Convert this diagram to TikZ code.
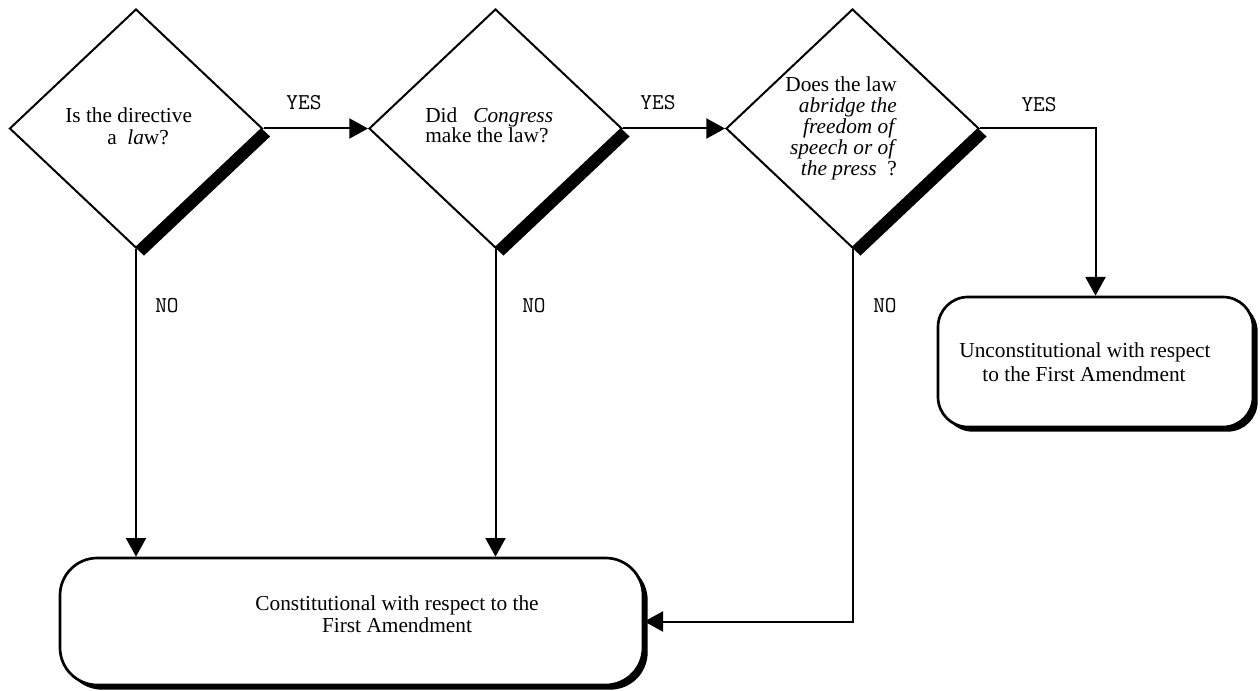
\documentclass[tikz,border=0pt]{standalone}
\usepackage{fontspec}
\setmainfont{Liberation Serif}
\usetikzlibrary{shapes.geometric,arrows.meta,shadows}
\begin{document}
\begin{tikzpicture}[x=0.75pt,y=-0.75pt,
  dec/.style={diamond, draw, line width=1.5pt, fill=white, inner sep=0pt,
    minimum width=189.75pt, minimum height=179.25pt,
    drop shadow={shadow xshift=6pt, shadow yshift=-6pt, fill=black, opacity=1}},
  endbox/.style={rectangle, draw, line width=2pt, fill=white, inner sep=0pt,
    drop shadow={shadow xshift=3.5pt, shadow yshift=-3.5pt, fill=black, opacity=1}},
  flow/.style={line width=1.5pt, -{Triangle[length=14pt, width=15pt]}},
  txt/.style={font=\fontsize{16}{19}\selectfont, inner sep=0pt},
  lbl/.style={font=\fontsize{17}{20}\selectfont\ttfamily, inner sep=0pt}]
\useasboundingbox (0,0) rectangle (1260,691);

% decision diamonds
\node[dec] (d1) at (136,128.5) {};
\node[dec] (d2) at (495.5,128.5) {};
\node[dec] (d3) at (852.5,128.5) {};

% terminal boxes
\node[endbox, rounded corners=28pt, minimum width=437.25pt, minimum height=95.25pt] (cb) at (351.5,621.5) {};
\node[endbox, rounded corners=22.5pt, minimum width=236.25pt, minimum height=97.5pt] (ub) at (1095.5,362) {};

% connectors
\draw[flow] (d1.east) -- (d2.west);
\draw[flow] (d2.east) -- (d3.west);
\draw[flow] (d3.east) -| (ub.north);
\draw[flow] (d1.south) -- (d1.south |- cb.north);
\draw[flow] (d2.south) -- (d2.south |- cb.north);
\draw[flow] (d3.south) |- (cb.east);

% diamond texts
\node[txt, anchor=base west] (q1a) at (65,123) {Is the directive};
\node[txt, anchor=base west] (q1b) at (107,145) {a\ \ \textit{la}w?};
\node[txt, anchor=base west] (q2a) at (425,123) {Did\ \ \ \textit{Congress}};
\node[txt, anchor=base west] (q2b) at (425,143) {make the law?};
\node[txt, anchor=base east] (q3a) at (897,92) {Does the law};
\node[txt, anchor=base east] (q3b) at (897,113) {\textit{abridge the}};
\node[txt, anchor=base east] (q3c) at (897,134) {\textit{freedom of}};
\node[txt, anchor=base east] (q3d) at (897,155) {\textit{speech or of}};
\node[txt, anchor=base east] (q3e) at (897,176) {\textit{the press}\ \ ?};

% box texts
\node[txt, anchor=base] (c1) at (397,610) {Constitutional with respect to the};
\node[txt, anchor=base] (c2) at (397,632) {First Amendment};
\node[txt, anchor=base] (u1) at (1085,358) {Unconstitutional with respect};
\node[txt, anchor=base] (u2) at (1084,382) {to the First Amendment};

% labels
\node[lbl, anchor=base] (y1) at (304,110) {YES};
\node[lbl, anchor=base] (y2) at (658,110) {YES};
\node[lbl, anchor=base] (y3) at (1039,112) {YES};
\node[lbl, anchor=base west] (n1) at (155,313) {NO};
\node[lbl, anchor=base west] (n2) at (522,313) {NO};
\node[lbl, anchor=base west] (n3) at (873,313) {NO};
\end{tikzpicture}
\end{document}
